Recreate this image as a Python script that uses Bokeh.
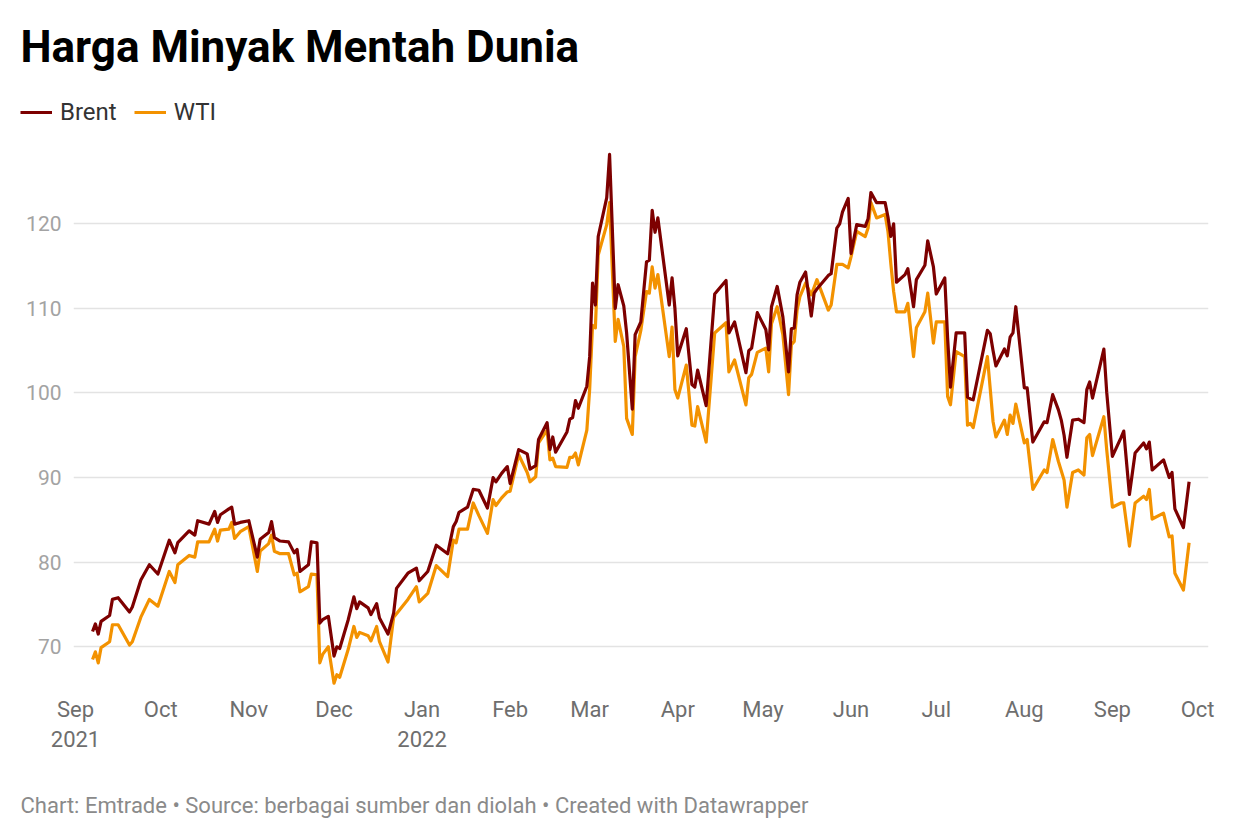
from datetime import datetime

from bokeh.embed import file_html
from bokeh.layouts import column
from bokeh.models import FixedTicker, Label, Legend, LegendItem, Range1d
from bokeh.plotting import figure
from bokeh.resources import INLINE

# harga harian (USD/barel)
dates = [
    "2021-09-07", "2021-09-08", "2021-09-09", "2021-09-10", "2021-09-13", "2021-09-14",
    "2021-09-16", "2021-09-20", "2021-09-21", "2021-09-24", "2021-09-27", "2021-09-30",
    "2021-10-04", "2021-10-06", "2021-10-07", "2021-10-11", "2021-10-13", "2021-10-14",
    "2021-10-18", "2021-10-20", "2021-10-21", "2021-10-22", "2021-10-25", "2021-10-26",
    "2021-10-27", "2021-10-29", "2021-11-01", "2021-11-04", "2021-11-05", "2021-11-08",
    "2021-11-09", "2021-11-10", "2021-11-12", "2021-11-15", "2021-11-17", "2021-11-18",
    "2021-11-19", "2021-11-22", "2021-11-23", "2021-11-25", "2021-11-26", "2021-11-27",
    "2021-11-29", "2021-12-01", "2021-12-02", "2021-12-03", "2021-12-06", "2021-12-08",
    "2021-12-09", "2021-12-10", "2021-12-13", "2021-12-14", "2021-12-16", "2021-12-17",
    "2021-12-20", "2021-12-22", "2021-12-23", "2021-12-27", "2021-12-30", "2021-12-31",
    "2022-01-03", "2022-01-06", "2022-01-10", "2022-01-12", "2022-01-13", "2022-01-14",
    "2022-01-17", "2022-01-19", "2022-01-21", "2022-01-24", "2022-01-26", "2022-01-27",
    "2022-01-29", "2022-01-31", "2022-02-01", "2022-02-04", "2022-02-07", "2022-02-08",
    "2022-02-10", "2022-02-11", "2022-02-14", "2022-02-15", "2022-02-16", "2022-02-17",
    "2022-02-21", "2022-02-22", "2022-02-23", "2022-02-24", "2022-02-25", "2022-02-28",
    "2022-03-01", "2022-03-02", "2022-03-03", "2022-03-04", "2022-03-07", "2022-03-08",
    "2022-03-10", "2022-03-11", "2022-03-13", "2022-03-14", "2022-03-16", "2022-03-17",
    "2022-03-19", "2022-03-21", "2022-03-22", "2022-03-23", "2022-03-24", "2022-03-25",
    "2022-03-29", "2022-03-30", "2022-03-31", "2022-04-01", "2022-04-04", "2022-04-06",
    "2022-04-07", "2022-04-08", "2022-04-11", "2022-04-14", "2022-04-18", "2022-04-19",
    "2022-04-21", "2022-04-25", "2022-04-26", "2022-04-27", "2022-04-29", "2022-05-02",
    "2022-05-03", "2022-05-04", "2022-05-06", "2022-05-08", "2022-05-10", "2022-05-11",
    "2022-05-12", "2022-05-13", "2022-05-14", "2022-05-16", "2022-05-18", "2022-05-19",
    "2022-05-20", "2022-05-24", "2022-05-25", "2022-05-27", "2022-05-28", "2022-05-29",
    "2022-05-31", "2022-06-01", "2022-06-03", "2022-06-06", "2022-06-07", "2022-06-08",
    "2022-06-10", "2022-06-13", "2022-06-14", "2022-06-15", "2022-06-16", "2022-06-17",
    "2022-06-20", "2022-06-21", "2022-06-23", "2022-06-24", "2022-06-27", "2022-06-28",
    "2022-06-30", "2022-07-01", "2022-07-04", "2022-07-05", "2022-07-06", "2022-07-08",
    "2022-07-11", "2022-07-12", "2022-07-13", "2022-07-14", "2022-07-19", "2022-07-20",
    "2022-07-21", "2022-07-22", "2022-07-25", "2022-07-26", "2022-07-27", "2022-07-28",
    "2022-07-29", "2022-08-01", "2022-08-02", "2022-08-04", "2022-08-08", "2022-08-09",
    "2022-08-11", "2022-08-13", "2022-08-14", "2022-08-15", "2022-08-16", "2022-08-18",
    "2022-08-20", "2022-08-22", "2022-08-23", "2022-08-24", "2022-08-25", "2022-08-29",
    "2022-08-30", "2022-09-01", "2022-09-04", "2022-09-05", "2022-09-07", "2022-09-09",
    "2022-09-12", "2022-09-13", "2022-09-14", "2022-09-15", "2022-09-19", "2022-09-21",
    "2022-09-22", "2022-09-23", "2022-09-26", "2022-09-28",
]

brent = [
    71.8, 72.7, 71.5, 73.0, 73.7, 75.6, 75.8, 74.1, 74.7, 77.9, 79.7, 78.6,
    82.6, 81.1, 82.3, 83.7, 83.2, 84.9, 84.5, 86.0, 84.7, 85.6, 86.3, 86.5,
    84.5, 84.7, 84.9, 80.6, 82.7, 83.5, 84.8, 82.9, 82.5, 82.4, 81.1, 81.5,
    78.9, 79.7, 82.4, 82.3, 72.8, 73.2, 73.6, 68.9, 70.0, 69.8, 73.2, 75.9,
    74.5, 75.3, 74.6, 73.8, 75.1, 73.4, 71.5, 74.0, 76.9, 78.7, 79.3, 77.8,
    78.9, 82.0, 81.0, 84.2, 84.8, 85.9, 86.5, 88.6, 88.5, 86.4, 90.0, 89.5,
    90.5, 91.3, 89.3, 93.3, 92.8, 91.0, 91.4, 94.5, 96.5, 93.3, 94.8, 93.0,
    95.4, 96.9, 97.1, 99.1, 98.2, 100.8, 104.3, 113.0, 110.4, 118.5, 123.1, 128.2,
    110.0, 112.8, 110.3, 107.1, 98.1, 106.9, 108.4, 115.5, 115.7, 121.6, 119.0, 120.7,
    110.4, 113.6, 110.0, 104.4, 107.6, 101.0, 100.7, 102.7, 98.5, 111.7, 113.3, 107.1,
    108.4, 102.4, 105.0, 105.3, 109.5, 107.5, 105.1, 110.2, 112.6, 109.0, 102.5, 107.6,
    107.7, 111.6, 113.1, 114.3, 109.1, 111.8, 112.3, 113.9, 114.1, 119.5, 120.0, 121.4,
    123.0, 116.5, 119.9, 119.7, 120.6, 123.7, 122.5, 122.5, 120.8, 118.5, 120.0, 113.1,
    114.0, 114.7, 110.2, 113.4, 115.1, 118.0, 114.9, 111.7, 113.6, 106.5, 100.7, 107.1,
    107.1, 99.5, 99.3, 99.2, 107.4, 107.0, 105.0, 103.2, 105.2, 104.4, 106.6, 107.1,
    110.2, 100.6, 100.6, 94.2, 96.6, 96.5, 99.8, 98.0, 96.8, 95.0, 92.4, 96.8,
    96.9, 96.5, 100.4, 101.3, 99.4, 105.2, 100.1, 92.5, 94.7, 95.5, 88.0, 92.9,
    94.1, 93.4, 94.2, 90.9, 92.1, 90.0, 90.6, 86.3, 84.1, 89.5,
]

wti = [
    68.5, 69.4, 68.1, 69.9, 70.6, 72.6, 72.6, 70.2, 70.6, 73.5, 75.6, 74.8,
    78.9, 77.6, 79.7, 80.8, 80.6, 82.4, 82.4, 83.9, 82.5, 83.8, 83.9, 84.7,
    82.8, 83.6, 84.2, 78.9, 81.3, 82.2, 83.2, 81.3, 81.0, 81.0, 78.5, 78.7,
    76.5, 77.1, 78.6, 78.5, 68.1, 69.1, 70.0, 65.7, 66.7, 66.4, 69.7, 72.4,
    71.1, 71.7, 71.3, 70.7, 72.4, 70.6, 68.2, 73.5, 73.9, 75.6, 77.1, 75.3,
    76.3, 79.6, 78.3, 82.6, 82.3, 83.9, 83.9, 87.0, 85.5, 83.4, 87.4, 86.7,
    87.6, 88.3, 88.4, 92.7, 90.6, 89.5, 90.1, 94.1, 95.6, 92.1, 92.3, 91.3,
    91.2, 92.4, 92.4, 92.9, 91.5, 95.6, 100.5, 108.0, 107.7, 116.3, 119.9, 122.5,
    106.1, 108.7, 105.5, 97.0, 95.1, 104.3, 107.4, 112.0, 111.8, 114.9, 112.4, 114.0,
    104.3, 107.8, 100.4, 99.4, 103.3, 96.2, 96.1, 98.4, 94.2, 107.1, 108.3, 102.5,
    103.9, 98.6, 101.8, 102.2, 104.8, 105.3, 102.5, 108.2, 110.2, 106.9, 99.8, 105.7,
    106.1, 109.8, 111.4, 113.0, 111.6, 112.5, 113.4, 109.8, 110.4, 115.2, 115.2, 115.2,
    114.8, 116.1, 119.1, 118.5, 119.5, 122.5, 120.7, 121.1, 119.1, 115.3, 112.0, 109.6,
    109.6, 110.6, 104.3, 107.7, 109.6, 111.8, 105.9, 108.4, 108.4, 99.6, 98.6, 104.9,
    104.3, 96.2, 96.4, 95.9, 104.3, 100.5, 96.6, 94.8, 96.8, 95.1, 97.4, 96.4,
    98.7, 94.1, 94.5, 88.6, 90.9, 90.6, 94.5, 91.9, 90.8, 89.7, 86.5, 90.6,
    90.9, 90.3, 94.7, 95.1, 92.6, 97.2, 93.3, 86.5, 87.0, 87.0, 81.9, 87.0,
    87.8, 87.4, 88.6, 85.1, 85.8, 83.0, 83.1, 78.7, 76.7, 82.3,
]

month_ticks = [
    "2021-09-01", "2021-10-01", "2021-11-01", "2021-12-01", "2022-01-01", "2022-02-01",
    "2022-03-01", "2022-04-01", "2022-05-01", "2022-06-01", "2022-07-01", "2022-08-01",
    "2022-09-01", "2022-10-01",
]
month_labels = [
    "Sep\n2021", "Oct", "Nov", "Dec", "Jan\n2022", "Feb", "Mar",
    "Apr", "May", "Jun", "Jul", "Aug", "Sep", "Oct",
]
y_ticks = [70, 80, 90, 100, 110, 120]

EPOCH = datetime(1970, 1, 1)


def ms(s):
    return int((datetime.fromisoformat(s) - EPOCH).total_seconds() * 1000)


x = [datetime.fromisoformat(d) for d in dates]
tick_ms = [ms(t) for t in month_ticks]

BRENT = "#7d0000"
WTI = "#f39200"
FONT = "Roboto"
W = 1232


def blank(height):
    # a strip whose plot area is the whole canvas, for title / legend / footer
    f = figure(width=W, height=height, x_range=Range1d(0, 1), y_range=Range1d(0, 1),
               x_axis_location=None, y_axis_location=None,
               output_backend="svg", toolbar_location=None, min_border=0)
    f.outline_line_color = None
    f.grid.grid_line_color = None
    f.frame_align = False
    return f


# header: judul + legenda
head = blank(140)
head.add_layout(Label(
    x=20, y=93.5, x_units="screen", y_units="screen",
    text="Harga Minyak Mentah Dunia", text_font=FONT, text_font_style="bold",
    text_font_size="44px", text_color="#000000", text_baseline="middle",
))
nan = float("nan")
lg_brent = head.line([nan], [nan], line_color=BRENT, line_width=3.2)
lg_wti = head.line([nan], [nan], line_color=WTI, line_width=3.2)
legend = Legend(
    items=[LegendItem(label="Brent", renderers=[lg_brent]),
           LegendItem(label="WTI", renderers=[lg_wti])],
    location=(20, 14), orientation="horizontal",
    glyph_width=32, glyph_height=22, label_height=22, label_standoff=8,
    spacing=17, padding=0, margin=0,
    border_line_color=None, background_fill_alpha=0,
    label_text_font=FONT, label_text_font_size="24px", label_text_color="#333333",
)
head.add_layout(legend)

# grafik utama
p = figure(
    width=W, height=630,
    x_axis_type="datetime",
    x_range=Range1d(datetime(2021, 8, 31, 7), datetime(2022, 10, 4, 20)),
    y_range=Range1d(64.83, 129.85),
    output_backend="svg", toolbar_location=None,
    min_border_left=73, min_border_right=24,
    min_border_top=0, min_border_bottom=80,
)
p.outline_line_color = None
p.frame_align = False

p.line(x, wti, line_color=WTI, line_width=3.2, line_join="round")
p.line(x, brent, line_color=BRENT, line_width=3.2, line_join="round")

p.xaxis.ticker = FixedTicker(ticks=tick_ms)
p.xaxis.major_label_overrides = dict(zip(tick_ms, month_labels))
p.yaxis.ticker = FixedTicker(ticks=y_ticks)
for ax in (p.xaxis, p.yaxis):
    ax.axis_line_color = None
    ax.major_tick_line_color = None
    ax.minor_tick_line_color = None
    ax.major_tick_out = 0
    ax.major_tick_in = 0
    ax.major_label_text_font = FONT
p.xaxis.major_label_text_font_size = "22px"
p.xaxis.major_label_text_color = "#6e6e6e"
p.xaxis.major_label_text_line_height = 1.2
p.xaxis.major_label_standoff = 6
p.yaxis.major_label_text_font_size = "21px"
p.yaxis.major_label_text_color = "#a3a3a3"
p.yaxis.major_label_standoff = 12

p.xgrid.grid_line_color = None
p.ygrid.grid_line_color = "#e3e3e3"
p.ygrid.grid_line_width = 1.5

# catatan kaki
foot = blank(62)
foot.add_layout(Label(
    x=20, y=26.7, x_units="screen", y_units="screen",
    text="Chart: Emtrade \u2022 Source: berbagai sumber dan diolah \u2022 Created with Datawrapper",
    text_font=FONT, text_font_size="22px", text_color="#8a8a8a",
    text_baseline="middle",
))

layout = column(head, p, foot)
open("out.html", "w").write(file_html(layout, INLINE))
